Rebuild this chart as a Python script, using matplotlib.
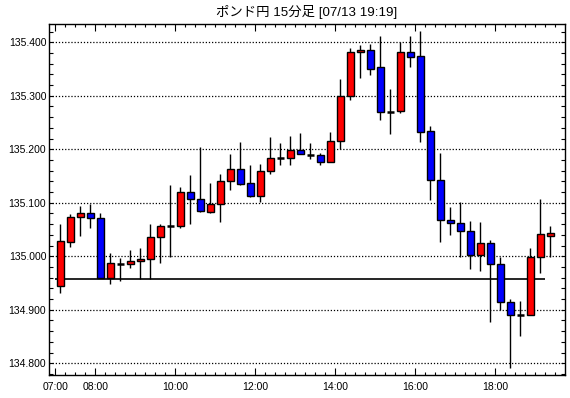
import numpy as np
import matplotlib
matplotlib.use('Agg')
import matplotlib.pyplot as plt
from matplotlib.ticker import FixedLocator, MultipleLocator


# 15分足 07:00 - 19:15 (50本)
opens = [134.944, 135.027, 135.073, 135.080, 135.071, 134.960, 134.986, 134.986, 134.991, 134.994,
         135.036, 135.057, 135.057, 135.120, 135.108, 135.083, 135.097, 135.140, 135.164, 135.137,
         135.112, 135.159, 135.183, 135.183, 135.198, 135.189, 135.189, 135.177, 135.215, 135.299,
         135.381, 135.385, 135.353, 135.270, 135.271, 135.381, 135.374, 135.234, 135.142, 135.067,
         135.062, 135.047, 135.002, 135.024, 134.985, 134.914, 134.890, 134.890, 134.998, 135.037]
highs = [135.060, 135.079, 135.094, 135.098, 135.080, 135.006, 134.996, 135.012, 135.015, 135.060,
         135.060, 135.134, 135.130, 135.152, 135.204, 135.137, 135.154, 135.191, 135.214, 135.171,
         135.173, 135.223, 135.211, 135.225, 135.230, 135.211, 135.194, 135.232, 135.331, 135.389,
         135.395, 135.397, 135.412, 135.313, 135.401, 135.412, 135.422, 135.243, 135.194, 135.093,
         135.101, 135.066, 135.064, 135.030, 134.998, 134.921, 134.916, 135.016, 135.107, 135.056]
lows = [134.932, 135.018, 135.037, 135.053, 134.960, 134.948, 134.953, 134.979, 134.957, 134.957,
        134.988, 134.998, 135.053, 135.061, 135.082, 135.081, 135.065, 135.124, 135.133, 135.111,
        135.101, 135.153, 135.171, 135.171, 135.191, 135.181, 135.170, 135.177, 135.200, 135.293,
        135.334, 135.339, 135.255, 135.228, 135.267, 135.354, 135.214, 135.105, 135.027, 135.039,
        134.998, 134.977, 134.973, 134.877, 134.900, 134.791, 134.851, 134.890, 134.969, 134.998]
closes = [135.028, 135.073, 135.080, 135.071, 134.960, 134.987, 134.986, 134.991, 134.994, 135.036,
          135.056, 135.057, 135.120, 135.108, 135.084, 135.097, 135.140, 135.164, 135.136, 135.112,
          135.159, 135.183, 135.183, 135.198, 135.191, 135.189, 135.177, 135.215, 135.299, 135.381,
          135.385, 135.351, 135.269, 135.270, 135.381, 135.373, 135.232, 135.142, 135.067, 135.062,
          135.047, 135.002, 135.024, 134.985, 134.914, 134.890, 134.890, 134.998, 135.041, 135.043]
ref_price = 134.957
start_hour = 7.0
bar_hours = 0.25
hour_ticks = [7, 8, 10, 12, 14, 16, 18]
hour_labels = ['07:00', '08:00', '10:00', '12:00', '14:00', '16:00', '18:00']
title = 'ポンド円 15分足 [07/13 19:19]'

o = np.array(opens)
h = np.array(highs)
l = np.array(lows)
c = np.array(closes)
x = start_hour + (np.arange(len(o)) + 0.5) * bar_hours

W, H = 570, 398
fig = plt.figure(figsize=(W / 100, H / 100), dpi=100)
ax = fig.add_axes([49 / W, 23 / H, 516 / W, 351 / H])

ax.vlines(x, l, h, color='black', linewidth=1.0, zorder=2)
up = c > o
down = c < o
flat = c == o
bw = 0.16
ax.bar(x[up], (c - o)[up], bottom=o[up], width=bw, color='#ff0000',
       edgecolor='black', linewidth=1.0, zorder=3)
ax.bar(x[down], (o - c)[down], bottom=c[down], width=bw, color='#0000ff',
       edgecolor='black', linewidth=1.0, zorder=3)
ax.hlines(o[flat], x[flat] - bw / 2, x[flat] + bw / 2, color='black',
          linewidth=1.8, zorder=3)

ax.hlines(ref_price, start_hour, start_hour + (len(o) - 1) * bar_hours,
          color='black', linewidth=1.2, zorder=2)

ax.set_xlim(6.8425, 19.74)
ax.set_ylim(134.7781, 135.4342)

for yv in np.arange(134.8, 135.41, 0.1):
    ax.axhline(yv, color='black', linewidth=0.9, linestyle=(0, (1, 1.5)), zorder=1)

ax.xaxis.set_major_locator(FixedLocator(hour_ticks))
ax.set_xticklabels(hour_labels)
ax.xaxis.set_minor_locator(MultipleLocator(bar_hours))
ax.yaxis.set_major_locator(MultipleLocator(0.1))
ax.yaxis.set_minor_locator(MultipleLocator(0.02))
ax.yaxis.set_major_formatter(plt.FormatStrFormatter('%.3f'))

ax.tick_params(axis='both', which='both', direction='in', top=True, right=True,
               colors='black', labelsize=7.5, width=0.8)
ax.tick_params(axis='y', which='both', length=3, pad=2)
ax.tick_params(axis='x', which='major', length=5, pad=5)
ax.tick_params(axis='x', which='minor', length=2.5)
for lab in ax.get_xticklabels() + ax.get_yticklabels():
    lab.set_family('Liberation Sans')
for sp in ax.spines.values():
    sp.set_linewidth(1.0)

fig.text(307 / W, 1 - 12 / H, title, ha='center', va='center', fontsize=9.6,
         family=['Liberation Sans', 'Noto Sans CJK JP'])

fig.savefig('out.png', dpi=100)
